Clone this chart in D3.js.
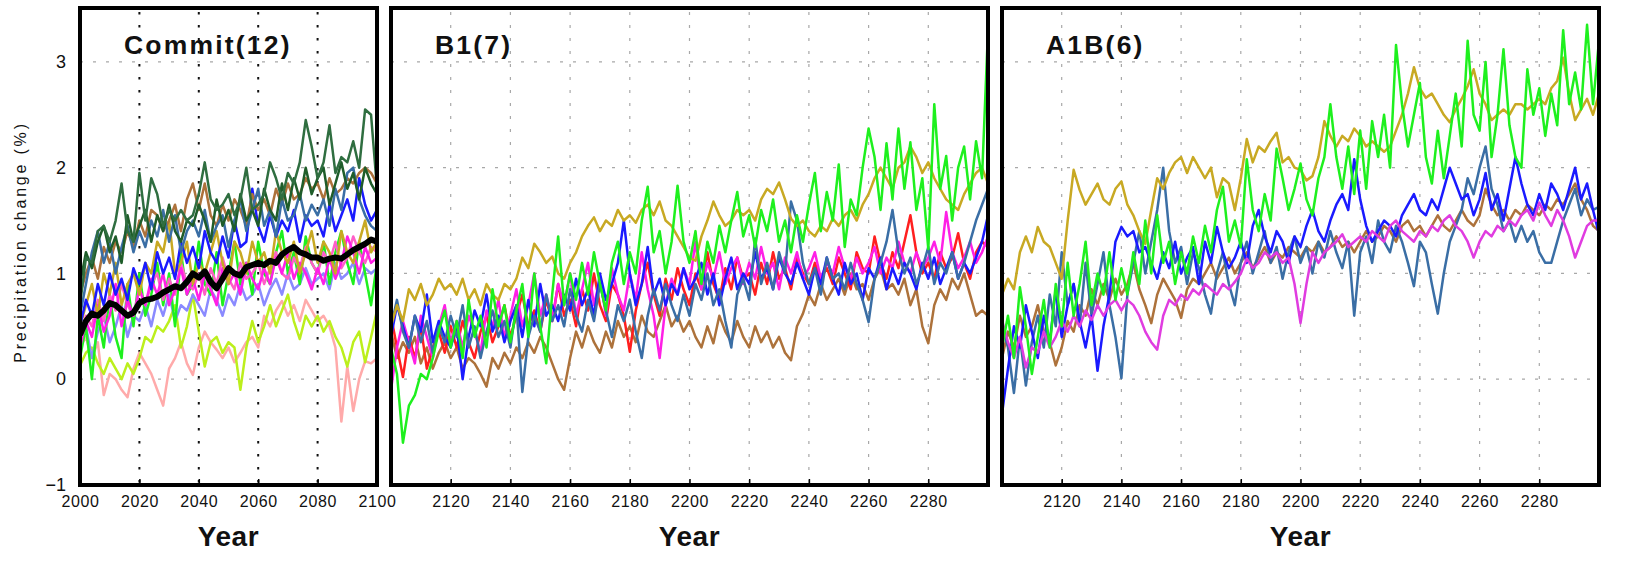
<!DOCTYPE html>
<html>
<head>
<meta charset="utf-8">
<script src="https://cdn.jsdelivr.net/npm/d3@7/dist/d3.min.js"></script>
<style>
  body { margin: 0; background: #fff; }
  svg { display: block; font-family: "Liberation Sans", Arial, sans-serif; }
  .x-axis text { font-size: 16px; fill: #111; letter-spacing: 0.6px; }
  .y-axis text { font-size: 18px; fill: #111; }
  .title { font-size: 26.5px; font-weight: bold; letter-spacing: 2.2px; fill: #111; }
  .x-label { font-size: 28px; font-weight: bold; letter-spacing: 0.6px; fill: #111; }
  .y-label { font-size: 16px; letter-spacing: 2.8px; fill: #111; }
</style>
</head>
<body>
<div id="chart"></div>
<script>
// ---- data ----
const commitYears = d3.range(2000, 2101, 2);
const scenarioYears = d3.range(2100, 2301, 2);

const commitTicks = [2000, 2020, 2040, 2060, 2080, 2100];
const scenarioTicks = [2120, 2140, 2160, 2180, 2200, 2220, 2240, 2260, 2280];
const yTicks = [-1, 0, 1, 2, 3];
const yGrid = [0, 1, 2, 3];
const commitGrid = [2020, 2040, 2060, 2080];

const panelTitles = ['Commit(12)', 'B1(7)', 'A1B(6)'];

// Commit(12): 12 models + ensemble mean
const commitPink = [
  0.3,0.4,0.2,0.35,-0.15,0.05,0.0,-0.1,-0.17,0.1,
  0.25,0.15,0.05,-0.1,-0.25,0.1,0.2,0.35,0.15,0.04,
  0.3,0.45,0.35,0.28,0.2,0.3,0.16,0.25,0.35,0.4,
  0.3,0.6,0.5,0.65,0.74,0.6,0.7,0.55,0.75,0.65,
  0.55,0.6,0.5,0.3,-0.4,0.12,-0.3,0.0,0.17,0.15,
  0.2];
const commitLime = [
  0.13,0.25,0.3,0.15,0.05,0.2,0.1,0.0,0.15,0.05,
  0.2,0.4,0.35,0.5,0.45,0.55,0.7,0.3,0.5,0.8,
  0.45,0.12,0.35,0.4,0.25,0.35,0.3,-0.1,0.3,0.55,
  0.35,0.5,0.7,0.5,0.65,0.8,0.55,0.38,0.6,0.5,
  0.6,0.45,0.55,0.4,0.3,0.12,0.35,0.45,0.16,0.4,
  0.65];
const commitPeri = [
  0.3,0.5,0.2,0.45,0.6,0.35,0.5,0.7,0.4,0.6,
  0.55,0.7,0.5,0.75,0.6,0.8,0.55,0.7,0.65,0.8,
  0.7,0.6,0.85,0.75,0.6,0.8,0.7,0.9,0.75,0.8,
  0.9,0.7,0.85,0.95,0.8,1.0,0.85,0.9,1.05,0.9,
  0.95,1.0,0.85,1.1,0.95,1.0,1.1,0.9,1.05,1.0,
  1.05];
const commitGreen = [
  0.2,0.5,0.0,0.6,0.3,0.8,0.4,0.2,0.9,0.5,
  1.0,0.6,0.8,1.1,0.7,1.0,0.5,1.2,0.8,0.9,
  1.3,0.9,0.8,1.2,0.7,1.0,1.3,0.9,1.1,0.8,
  1.3,1.0,0.9,1.2,1.4,1.0,1.2,0.9,1.35,1.1,
  1.0,1.3,0.9,1.2,1.4,1.1,0.9,1.3,1.0,0.7,
  1.1];
const commitRose = [
  0.4,0.6,0.5,0.75,0.55,0.8,0.65,0.9,0.7,0.6,
  0.85,0.7,0.9,1.0,0.75,0.95,0.8,1.1,0.9,0.85,
  1.0,0.8,1.05,0.9,1.15,0.95,0.85,1.1,0.95,1.0,
  1.1,0.9,1.05,1.2,1.0,0.95,1.15,1.05,1.25,1.1,
  1.0,1.2,1.1,1.3,1.05,1.15,1.35,1.2,1.1,1.25,
  1.2];
const commitMagenta = [
  0.3,0.55,0.4,0.7,0.45,0.6,0.9,0.5,0.75,0.6,
  0.85,0.7,0.95,0.8,1.0,0.7,0.85,1.05,0.8,0.95,
  0.75,1.0,0.85,0.7,1.05,0.9,1.0,0.8,1.1,0.95,
  0.85,1.05,0.9,1.15,1.0,1.2,0.95,1.1,1.0,0.85,
  1.05,0.9,1.15,0.95,1.1,1.35,1.2,1.0,1.25,1.1,
  1.15];
const commitOlive = [
  0.5,0.7,0.9,0.6,1.0,0.8,1.1,0.7,0.9,1.0,
  0.8,1.1,1.0,1.3,1.2,1.5,1.0,1.1,1.3,0.9,
  1.1,1.0,1.2,1.4,1.1,0.9,1.3,1.2,1.0,1.3,
  1.1,1.2,1.0,1.4,1.2,1.1,1.3,1.0,1.2,1.4,
  1.1,1.3,1.2,1.0,1.4,1.2,1.1,1.3,1.5,1.2,
  1.3];
const commitBlue = [
  0.5,0.75,0.6,0.9,0.7,1.0,0.8,0.95,0.75,1.05,
  0.9,1.1,0.85,1.2,1.0,1.15,0.95,1.3,1.1,1.25,
  1.05,1.4,1.2,1.1,1.35,1.15,1.5,1.25,1.3,1.8,
  1.45,1.3,1.55,1.35,1.5,1.4,1.6,1.3,1.55,1.45,
  1.5,1.35,1.65,1.4,1.55,1.7,1.5,1.9,1.65,1.5,
  1.6];
const commitBrown = [
  0.8,1.0,1.15,0.95,1.25,1.1,1.3,1.2,1.4,1.25,
  1.5,1.35,1.6,1.55,1.4,1.5,1.65,1.4,1.7,1.85,
  1.6,1.85,1.55,1.45,1.65,1.5,1.7,1.6,1.45,1.75,
  1.6,1.7,1.55,1.8,1.65,1.85,1.7,1.75,1.9,1.8,
  1.85,1.7,1.9,1.75,1.8,1.9,1.85,1.95,2.0,1.95,
  1.85];
const commitSteel = [
  0.6,0.9,1.2,1.4,1.1,1.3,1.0,1.25,1.45,1.2,
  1.4,1.25,1.5,1.35,1.6,1.3,1.55,1.2,1.4,1.5,
  1.35,1.6,1.3,1.45,1.55,1.25,1.5,1.7,1.4,1.6,
  1.8,1.45,1.6,1.35,1.7,1.5,1.55,1.75,1.5,1.65,
  1.55,1.7,1.45,1.8,1.6,1.95,2.0,1.7,1.55,1.45,
  1.4];
const commitDarkGreenB = [
  0.9,1.2,1.05,1.3,1.45,1.2,1.35,1.1,1.55,1.3,
  1.45,1.6,1.3,1.55,1.4,1.65,1.4,1.3,1.5,1.45,
  1.65,1.5,1.3,1.7,1.45,1.6,1.4,1.75,1.5,1.6,
  1.45,1.8,1.6,1.5,1.85,1.6,1.9,1.7,2.0,1.75,
  1.9,2.0,1.65,1.85,2.05,1.8,1.95,1.7,2.0,1.85,
  1.75];
const commitDarkGreenA = [
  0.7,1.15,1.1,1.4,1.45,1.3,1.5,1.85,1.4,1.3,
  1.95,1.5,1.9,1.75,1.45,1.6,1.5,1.6,1.5,1.55,
  1.75,2.05,1.7,1.6,1.65,1.75,1.55,1.7,2.0,1.6,
  1.65,1.75,2.05,1.9,1.7,1.95,1.85,2.05,2.45,2.2,
  1.9,2.05,2.4,1.95,2.1,2.05,2.25,2.0,2.55,2.5,
  1.8];
const commitMean = [
  0.42,0.55,0.62,0.6,0.65,0.72,0.7,0.65,0.6,0.63,
  0.72,0.75,0.76,0.78,0.82,0.85,0.88,0.86,0.92,1.0,
  0.96,1.02,0.92,0.86,0.95,1.05,1.0,0.98,1.06,1.08,
  1.1,1.08,1.12,1.1,1.18,1.22,1.25,1.2,1.18,1.15,
  1.15,1.12,1.14,1.15,1.14,1.18,1.22,1.25,1.28,1.32,
  1.3];

// B1(7)
const b1Brown = [
  0.45,0.2,0.35,0.25,0.4,0.15,0.3,0.1,0.25,0.35,
  0.2,0.3,0.1,0.2,0.15,0.05,-0.07,0.2,0.1,0.25,
  0.15,0.3,0.2,0.35,0.25,0.4,0.3,0.15,0.0,-0.1,
  0.2,0.45,0.3,0.5,0.35,0.25,0.45,0.3,0.55,0.4,
  0.5,0.35,0.6,0.45,0.4,0.55,0.7,0.5,0.6,0.45,
  0.55,0.4,0.3,0.5,0.34,0.6,0.45,0.35,0.55,0.4,
  0.3,0.5,0.35,0.45,0.3,0.4,0.25,0.18,0.5,0.62,
  0.8,0.7,0.9,0.75,0.85,0.95,0.8,1.0,0.85,0.9,
  0.75,0.95,1.05,0.85,0.9,0.8,0.95,0.7,0.85,0.5,
  0.34,0.7,0.85,0.75,0.95,0.85,1.0,0.8,0.6,0.65,
  0.6];
const b1Red = [
  0.6,0.3,0.02,0.4,0.2,0.5,0.1,0.3,0.45,0.25,
  0.5,0.3,0.55,0.35,0.2,0.45,0.6,0.35,0.5,0.7,
  0.4,0.6,0.8,0.5,0.65,0.45,0.75,0.55,0.9,0.6,
  0.75,0.5,0.85,0.65,1.0,0.7,0.55,0.9,0.8,0.6,
  0.26,0.65,0.9,1.1,0.8,0.6,0.95,0.75,1.05,0.85,
  0.7,1.0,0.85,1.2,0.9,0.75,1.05,0.85,1.15,0.95,
  1.0,0.8,1.1,0.9,1.2,0.95,1.05,0.85,1.15,1.0,
  0.9,1.1,0.95,1.05,0.9,1.15,1.0,0.85,1.2,1.05,
  1.0,1.35,1.1,0.95,1.2,1.05,1.3,1.55,1.2,1.0,
  1.1,0.95,1.2,1.05,1.15,1.38,1.1,0.95,1.2,1.3,
  1.25];
const b1Magenta = [
  -0.1,0.3,0.55,0.35,0.15,0.6,0.4,0.2,0.5,0.7,
  0.35,0.55,0.3,0.6,0.45,0.25,0.65,0.5,0.75,0.4,
  0.6,0.85,0.5,0.7,1.0,0.6,0.8,0.55,0.9,0.7,
  1.0,0.6,0.85,1.1,0.7,0.95,0.6,1.05,0.8,0.65,
  1.0,0.75,1.2,0.85,0.6,0.2,0.7,0.95,0.8,1.05,
  0.9,1.3,0.85,1.1,0.95,1.2,0.9,1.05,1.15,0.9,
  1.1,0.95,1.25,1.0,1.1,0.85,1.15,1.0,1.2,0.95,
  1.05,1.2,0.95,1.1,1.0,1.25,1.05,0.95,1.15,1.0,
  1.1,1.25,1.0,1.15,1.05,1.3,1.1,1.0,1.2,1.05,
  1.15,1.3,1.1,1.58,1.2,1.05,1.15,1.3,1.1,1.2,
  1.35];
const b1Blue = [
  0.4,0.7,0.5,0.3,0.6,0.45,0.8,0.35,0.55,0.4,
  0.3,0.5,0.0,0.4,0.65,0.5,0.8,0.45,0.6,0.35,
  0.55,0.7,0.4,0.75,0.5,0.9,0.6,0.7,0.55,0.8,
  0.65,0.95,0.7,0.85,0.6,1.0,0.75,0.9,1.1,1.5,
  1.0,0.7,0.9,1.25,0.8,0.95,0.7,0.9,0.8,1.05,
  0.85,0.95,1.1,0.8,1.0,0.7,0.95,1.15,0.85,1.0,
  0.9,1.2,0.95,1.05,0.85,1.15,1.0,0.9,1.1,0.95,
  0.8,1.05,0.9,1.15,0.95,0.8,1.1,0.9,1.0,0.75,
  1.05,0.95,1.15,0.85,1.05,0.9,1.1,1.0,0.85,1.1,
  0.95,1.15,0.9,1.05,1.2,0.95,1.1,1.0,1.15,1.3,
  1.55];
const b1Steel = [
  0.5,0.75,0.45,0.3,0.6,0.35,0.55,0.25,0.5,0.35,
  0.6,0.4,0.7,0.3,0.5,0.2,0.45,0.65,0.4,0.55,
  0.3,0.7,-0.12,0.4,0.6,0.45,0.8,0.55,0.7,0.5,
  0.85,0.6,0.45,0.75,0.55,0.9,0.65,0.4,0.7,0.55,
  0.75,0.45,0.2,0.6,0.85,0.65,0.9,0.7,0.55,0.8,
  0.6,0.9,0.75,1.0,0.7,0.85,0.55,0.3,0.8,0.95,
  0.75,1.33,0.9,1.1,0.85,1.2,1.0,1.68,1.5,1.1,
  0.9,1.05,0.8,1.15,0.95,1.0,0.85,1.1,0.9,0.75,
  0.54,0.95,1.1,1.3,1.6,1.2,1.0,1.15,0.9,1.05,
  1.25,0.9,1.1,1.0,1.2,0.95,1.1,1.3,1.5,1.65,
  1.8];
const b1Olive = [
  0.5,0.7,0.55,0.85,0.75,0.9,0.7,0.8,0.95,0.85,
  0.9,0.8,0.95,0.75,0.85,0.7,0.9,0.8,0.75,0.9,
  0.85,0.95,1.15,1.05,1.28,1.2,1.1,1.16,1.0,0.95,
  1.1,1.2,1.35,1.45,1.53,1.4,1.5,1.45,1.6,1.5,
  1.55,1.48,1.6,1.65,1.55,1.68,1.5,1.45,1.35,1.25,
  1.15,1.12,1.35,1.5,1.68,1.55,1.45,1.5,1.6,1.55,
  1.6,1.5,1.7,1.8,1.75,1.86,1.7,1.52,1.45,1.5,
  1.4,1.35,1.45,1.4,1.52,1.45,1.55,1.6,1.5,1.65,
  1.75,1.9,2.0,1.9,1.8,2.0,2.05,2.2,2.1,1.95,
  2.05,1.9,1.8,1.7,1.65,1.6,1.75,1.85,1.95,2.0,
  1.85];
const b1Green = [
  0.3,0.05,-0.6,-0.25,-0.15,0.05,0.0,0.2,0.45,0.65,
  0.3,0.55,0.2,0.75,0.4,0.6,0.3,0.85,0.5,0.7,
  0.35,0.65,0.9,0.4,1.0,0.5,0.15,0.8,1.35,0.7,
  1.0,0.75,1.1,0.8,1.2,0.9,0.65,1.1,1.3,0.9,
  1.2,1.0,1.5,1.82,1.2,1.4,1.0,1.3,1.83,1.3,
  1.1,1.4,0.9,1.3,1.1,1.45,1.2,1.5,1.77,1.35,
  1.55,1.25,1.6,1.4,1.7,1.3,1.5,1.2,1.55,1.3,
  1.65,1.95,1.4,1.77,1.5,2.03,1.25,1.7,1.55,2.0,
  2.37,2.1,1.6,2.23,1.7,2.37,1.8,2.24,1.6,1.9,
  1.23,2.6,1.8,2.11,1.5,2.0,2.2,1.7,2.25,1.9,
  3.3];

// A1B(6)
const a1bBrown = [
  0.2,0.45,0.3,0.6,0.4,0.5,0.7,0.45,0.35,0.13,
  0.3,0.55,0.45,0.7,0.6,0.85,0.7,0.9,0.75,0.95,
  0.8,0.9,1.1,0.85,0.7,0.53,0.8,0.95,0.85,0.75,
  0.58,0.85,0.95,0.9,1.0,1.1,0.95,1.05,1.15,1.0,
  1.1,1.2,1.05,1.15,1.25,1.1,1.2,1.15,1.25,1.2,
  1.15,1.25,1.2,1.3,1.2,1.25,1.35,1.25,1.3,1.2,
  1.3,1.4,1.3,1.35,1.45,1.4,1.3,1.45,1.5,1.4,
  1.45,1.35,1.45,1.55,1.45,1.4,1.5,1.6,1.5,1.45,
  1.55,1.8,1.65,1.55,1.6,1.5,1.6,1.55,1.65,1.6,
  1.55,1.65,1.6,1.7,1.65,1.75,1.85,1.7,1.6,1.45,
  1.4];
const a1bSteel = [
  0.5,0.3,-0.13,0.4,-0.06,0.35,0.6,0.3,0.8,0.5,
  1.2,0.7,0.9,0.5,1.1,0.6,0.9,1.2,0.7,0.4,
  0.01,0.8,1.1,1.4,1.0,1.3,1.6,2.0,1.4,1.1,
  1.25,0.9,1.2,1.05,0.8,0.62,1.0,1.2,0.9,0.7,
  1.1,1.3,1.0,1.2,1.4,1.1,1.25,0.95,1.2,1.35,
  1.1,1.25,1.0,1.3,1.15,1.4,1.2,1.05,1.3,0.6,
  1.2,1.35,1.1,1.5,1.3,1.2,1.45,1.3,1.1,0.88,
  1.3,1.2,0.9,0.62,1.0,1.3,1.45,1.6,1.9,1.75,
  2.0,2.2,1.8,1.65,1.4,1.5,1.3,1.45,1.3,1.4,
  1.2,1.1,1.1,1.3,1.5,1.65,1.8,1.55,1.7,1.6,
  1.63];
const a1bBlue = [
  -0.33,0.1,0.5,0.3,0.7,0.45,0.2,0.6,0.35,0.85,
  0.4,0.7,0.9,0.55,0.3,0.6,0.08,0.5,0.8,1.3,
  1.44,1.35,1.4,1.2,1.25,1.1,0.95,1.2,1.05,1.3,
  1.0,1.15,1.25,0.9,1.3,1.1,1.44,1.2,1.05,1.15,
  1.3,1.1,1.45,1.6,1.35,1.2,1.4,1.3,1.1,1.35,
  1.25,1.45,1.6,1.4,1.3,1.5,1.65,1.75,1.6,2.08,
  1.7,1.45,1.3,1.4,1.5,1.45,1.35,1.55,1.65,1.75,
  1.6,1.55,1.7,1.6,1.8,2.0,1.85,1.7,1.75,1.55,
  1.7,1.95,1.6,1.75,1.5,1.8,2.1,1.85,1.65,1.55,
  1.75,1.6,1.85,1.75,1.6,1.8,2.0,1.7,1.85,1.6,
  1.37];
const a1bMagenta = [
  0.56,0.35,0.2,0.4,0.11,0.3,0.25,0.45,0.3,0.4,
  0.55,0.45,0.6,0.5,0.65,0.56,0.7,0.6,0.7,0.75,
  0.65,0.75,0.7,0.6,0.45,0.35,0.28,0.6,0.75,0.7,
  0.8,0.75,0.85,0.8,0.9,0.85,0.8,0.9,0.85,0.92,
  1.0,1.14,1.05,1.1,1.2,1.15,1.2,1.1,1.15,0.9,
  0.53,0.9,1.2,1.1,1.2,1.25,1.3,1.37,1.25,1.3,
  1.35,1.3,1.4,1.35,1.3,1.45,1.5,1.4,1.35,1.3,
  1.4,1.35,1.45,1.4,1.5,1.55,1.45,1.4,1.3,1.15,
  1.3,1.4,1.35,1.45,1.4,1.5,1.45,1.55,1.6,1.5,
  1.67,1.55,1.45,1.6,1.5,1.35,1.15,1.3,1.45,1.5,
  1.5];
const a1bOlive = [
  0.8,0.95,0.85,1.2,1.35,1.2,1.44,1.3,1.25,1.1,
  0.95,1.5,1.98,1.79,1.65,1.75,1.85,1.7,1.65,1.8,
  1.87,1.65,1.55,1.4,1.28,1.6,1.9,1.8,1.95,2.05,
  2.1,1.95,2.1,2.0,1.9,2.0,1.72,1.9,1.85,1.6,
  1.9,2.27,2.05,2.2,2.15,2.25,2.33,2.05,2.1,2.0,
  1.98,1.88,1.92,2.1,2.44,2.3,2.2,2.3,2.25,2.37,
  2.3,2.2,2.25,2.2,2.15,2.2,2.35,2.5,2.7,2.95,
  2.75,2.66,2.7,2.6,2.5,2.43,2.55,2.65,2.77,2.93,
  2.7,2.6,2.45,2.5,2.55,2.5,2.6,2.6,2.55,2.6,
  2.65,2.6,2.75,2.82,3.04,2.7,2.45,2.55,2.65,2.5,
  2.7];
const a1bGreen = [
  0.3,0.6,0.2,0.87,0.5,0.05,0.4,0.75,0.3,0.9,
  0.5,1.1,0.6,0.9,1.3,0.7,1.0,0.8,1.2,0.75,
  1.05,0.8,1.2,0.9,1.5,1.0,1.55,1.1,1.3,0.9,
  1.2,1.0,1.35,1.1,1.45,1.2,1.6,1.82,1.3,1.5,
  1.25,2.08,1.6,1.4,1.75,1.5,2.18,1.9,1.6,1.8,
  2.04,1.7,1.55,1.9,2.1,2.6,2.1,1.8,2.2,1.75,
  2.35,1.8,2.44,2.1,2.5,2.0,3.16,2.6,2.2,2.5,
  2.8,2.1,1.85,2.35,1.9,2.3,2.7,2.2,3.2,2.5,
  2.35,3.0,2.1,2.5,3.12,2.4,2.1,2.0,2.93,2.5,
  2.75,2.3,2.7,2.4,3.3,2.6,2.9,2.55,3.35,2.6,
  3.2];

// ---- styles (kept apart from the values) ----
const COLORS = {
  pink: '#ffaaaa', lime: '#bcef1c', peri: '#8a8aff', green: '#1ef01e',
  rose: '#ff5fc8', magenta: '#ff1fe6', olive: '#c8a923', blue: '#1a1aff',
  brown: '#ad723b', steel: '#3a6ea5', dgreenB: '#1f5d2a', dgreenA: '#2f6e40',
  red: '#ff1f1f', amagenta: '#e03ce0', black: '#000'
};

const panels = [
  {
    title: panelTitles[0], left: 80, right: 377, domain: [2000, 2100],
    years: commitYears, ticks: commitTicks, darkGrid: true,
    lines: [
      [commitPink, 'pink'], [commitLime, 'lime'], [commitPeri, 'peri'],
      [commitGreen, 'green'], [commitRose, 'rose'], [commitMagenta, 'magenta'],
      [commitOlive, 'olive'], [commitBlue, 'blue'], [commitBrown, 'brown'],
      [commitSteel, 'steel'], [commitDarkGreenB, 'dgreenB'], [commitDarkGreenA, 'dgreenA'],
      [commitMean, 'black']
    ]
  },
  {
    title: panelTitles[1], left: 391, right: 988, domain: [2100, 2300],
    years: scenarioYears, ticks: scenarioTicks, darkGrid: false,
    lines: [
      [b1Brown, 'brown'], [b1Red, 'red'], [b1Magenta, 'magenta'], [b1Blue, 'blue'],
      [b1Steel, 'steel'], [b1Olive, 'olive'], [b1Green, 'green']
    ]
  },
  {
    title: panelTitles[2], left: 1002, right: 1599, domain: [2100, 2300],
    years: scenarioYears, ticks: scenarioTicks, darkGrid: false,
    lines: [
      [a1bBrown, 'brown'], [a1bSteel, 'steel'], [a1bBlue, 'blue'],
      [a1bMagenta, 'amagenta'], [a1bOlive, 'olive'], [a1bGreen, 'green']
    ]
  }
];

// ---- layout ----
const fullWidth = 1629;
const fullHeight = 561;
const plotTop = 8;
const plotBottom = 485;

const svg = d3.select('#chart').append('svg')
  .attr('width', fullWidth)
  .attr('height', fullHeight);

const y = d3.scaleLinear().domain([-1, 3.5]).range([plotBottom, plotTop + 1]);

panels.forEach((p, i) => {
  const x = d3.scaleLinear().domain(p.domain).range([p.left, p.right]);
  const g = svg.append('g').attr('class', 'panel');

  const clipId = 'clip' + i;
  svg.append('clipPath').attr('id', clipId)
    .append('rect')
    .attr('x', p.left).attr('y', plotTop)
    .attr('width', p.right - p.left).attr('height', plotBottom - plotTop);

  // horizontal grid
  g.selectAll('.hgrid').data(yGrid).join('line')
    .attr('class', 'hgrid')
    .attr('x1', p.left).attr('x2', p.right)
    .attr('y1', d => y(d)).attr('y2', d => y(d))
    .attr('stroke', '#a8a8a8').attr('stroke-width', 1.2)
    .attr('stroke-dasharray', '3,10');

  // vertical grid
  const vgrid = p.darkGrid ? commitGrid : p.ticks;
  g.selectAll('.vgrid').data(vgrid).join('line')
    .attr('class', 'vgrid')
    .attr('x1', d => x(d)).attr('x2', d => x(d))
    .attr('y1', plotTop + 4).attr('y2', plotBottom)
    .attr('stroke', p.darkGrid ? '#111' : '#a8a8a8')
    .attr('stroke-width', p.darkGrid ? 2 : 1.2)
    .attr('stroke-dasharray', p.darkGrid ? '2.5,10.5' : '3,10');

  // series
  const line = d3.line()
    .x((d, k) => x(p.years[k]))
    .y(d => y(d));

  g.append('g').attr('clip-path', `url(#${clipId})`)
    .selectAll('path').data(p.lines).join('path')
    .attr('fill', 'none')
    .attr('stroke', d => COLORS[d[1]])
    .attr('stroke-width', d => d[1] === 'black' ? 6 : 2.5)
    .attr('stroke-linejoin', 'round')
    .attr('d', d => line(d[0]));

  // frame
  g.append('rect')
    .attr('x', p.left).attr('y', plotTop)
    .attr('width', p.right - p.left).attr('height', plotBottom - plotTop)
    .attr('fill', 'none').attr('stroke', '#000').attr('stroke-width', 4);

  // x axis
  g.append('g')
    .attr('class', 'x-axis')
    .attr('transform', `translate(0,${plotBottom})`)
    .call(d3.axisBottom(x).tickValues(p.ticks).tickSize(-6).tickPadding(11)
      .tickFormat(d3.format('d')))
    .call(a => a.select('.domain').remove())
    .call(a => a.selectAll('.tick line').attr('stroke', '#000').attr('stroke-width', 1.5));

  // panel title
  g.append('text')
    .attr('class', 'title')
    .attr('x', p.left + 44)
    .attr('y', 54)
    .text(p.title);

  // x label
  g.append('text')
    .attr('class', 'x-label')
    .attr('x', (p.left + p.right) / 2)
    .attr('y', 546)
    .attr('text-anchor', 'middle')
    .text('Year');

  if (i === 0) {
    g.append('g')
      .attr('class', 'y-axis')
      .attr('transform', `translate(${p.left},0)`)
      .call(d3.axisLeft(y).tickValues(yTicks).tickSize(0).tickPadding(14)
        .tickFormat(d3.format('d')))
      .call(a => a.select('.domain').remove());
  }
});

svg.append('text')
  .attr('class', 'y-label')
  .attr('transform', 'translate(26,242) rotate(-90)')
  .attr('text-anchor', 'middle')
  .text('Precipitation change (%)');
</script>
</body>
</html>
